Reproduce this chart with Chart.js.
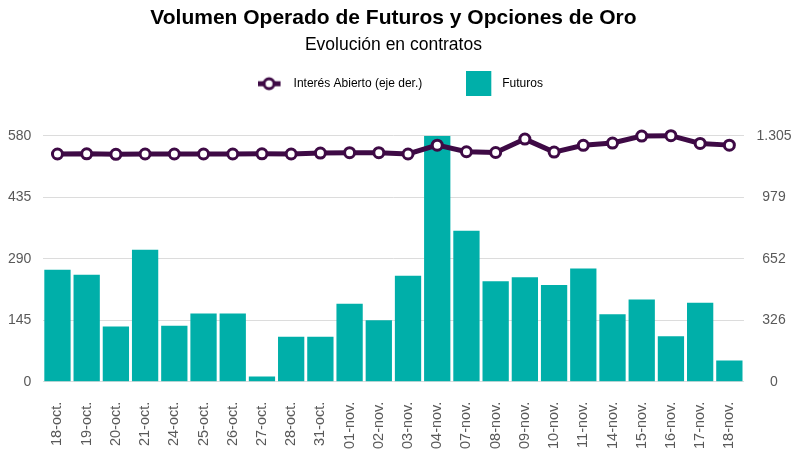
<!DOCTYPE html>
<html>
<head>
<meta charset="utf-8">
<script src="https://cdn.jsdelivr.net/npm/chart.js@4.4.1/dist/chart.umd.min.js"></script>
<style>
  html, body { margin: 0; padding: 0; background: #fff; }
  #wrap { width: 800px; height: 457px; }
</style>
</head>
<body>
<div id="wrap"><canvas id="chart" width="800" height="457"></canvas></div>
<script>
// datos
const fechas = ['18-oct.', '19-oct.', '20-oct.', '21-oct.', '24-oct.', '25-oct.', '26-oct.', '27-oct.',
  '28-oct.', '31-oct.', '01-nov.', '02-nov.', '03-nov.', '04-nov.', '07-nov.', '08-nov.', '09-nov.',
  '10-nov.', '11-nov.', '14-nov.', '15-nov.', '16-nov.', '17-nov.', '18-nov.'];
const futuros = [264, 252, 130, 311, 132, 161, 161, 12, 106, 106, 184, 145, 250, 580,
  356, 237, 246, 228, 267, 159, 194, 107, 186, 50];
const interesAbierto = [1208, 1209, 1206, 1208, 1208, 1208, 1208, 1209, 1208, 1213, 1215, 1215,
  1208, 1255, 1220, 1216, 1287, 1218, 1254, 1266, 1303, 1305, 1264, 1255];
const ticksIzq = [0, 145, 290, 435, 580];
const ticksDer = [0, 326, 652, 979, 1305];

const colorLinea = '#3e0a45';
const colorBarra = '#00afa9';
const gris = '#595959';
const fuente = 'Liberation Sans';

// iconos de la leyenda
function iconoLinea() {
  const c = document.createElement('canvas');
  c.width = 30; c.height = 16;
  const x = c.getContext('2d');
  x.strokeStyle = colorLinea;
  x.lineWidth = 5;
  x.beginPath(); x.moveTo(0, 8); x.lineTo(23, 8); x.stroke();
  x.beginPath(); x.arc(11.5, 8, 5, 0, Math.PI * 2);
  x.fillStyle = '#fff'; x.fill();
  x.lineWidth = 3; x.stroke();
  return c;
}
function iconoBarra() {
  const c = document.createElement('canvas');
  c.width = 30; c.height = 25;
  const x = c.getContext('2d');
  x.fillStyle = colorBarra;
  x.fillRect(0, 0, 25, 25);
  return c;
}
const iconos = [iconoLinea(), iconoBarra()];

// espacio extra debajo de la leyenda + titulos centrados sobre el area del grafico
const ajustes = {
  id: 'ajustes',
  beforeInit(chart) {
    const fitOriginal = chart.legend.fit;
    chart.legend.fit = function () {
      fitOriginal.bind(chart.legend)();
      this.height += 36;
    };
  },
  afterLayout(chart) {
    const area = chart.chartArea;
    chart.boxes.forEach(b => {
      if (b !== chart.legend && b.options && typeof b.options.text === 'string') {
        b.left = area.left;
        b.right = area.right;
      }
    });
  }
};

const ctx = document.getElementById('chart').getContext('2d');
new Chart(ctx, {
  data: {
    labels: fechas,
    datasets: [
      {
        type: 'line',
        label: 'Interés Abierto (eje der.)',
        data: interesAbierto,
        yAxisID: 'yDer',
        borderColor: colorLinea,
        borderWidth: 5,
        pointRadius: 5,
        pointBorderWidth: 3,
        pointBackgroundColor: '#fff',
        pointBorderColor: colorLinea,
        tension: 0,
        clip: false,
        order: 0
      },
      {
        type: 'bar',
        label: 'Futuros',
        data: futuros,
        yAxisID: 'yIzq',
        backgroundColor: colorBarra,
        categoryPercentage: 1,
        barPercentage: 0.9,
        order: 1
      }
    ]
  },
  options: {
    responsive: false,
    animation: false,
    layout: { padding: { left: -3.5, right: -4, top: 0, bottom: 0 } },
    plugins: {
      title: {
        display: true,
        text: 'Volumen Operado de Futuros y Opciones de Oro',
        color: '#000',
        font: { family: fuente, size: 21, weight: 'bold' },
        padding: { top: 6, bottom: 0 }
      },
      subtitle: {
        display: true,
        text: 'Evolución en contratos',
        color: '#000',
        font: { family: fuente, size: 17.5 },
        padding: { top: 3, bottom: -21.5 }
      },
      legend: {
        position: 'top',
        labels: {
          usePointStyle: true,
          pointStyleWidth: 30,
          padding: 44,
          color: '#000',
          font: { family: fuente, size: 12 },
          generateLabels: function (chart) {
            return chart.data.datasets.map((ds, i) => ({
              text: ds.label,
              pointStyle: iconos[i],
              fillStyle: 'transparent',
              strokeStyle: 'transparent',
              lineWidth: 0,
              fontColor: '#000',
              datasetIndex: i,
              hidden: false
            }));
          }
        }
      },
      tooltip: { enabled: false }
    },
    scales: {
      x: {
        offset: true,
        grid: { display: false, drawTicks: false },
        border: { display: false },
        afterFit: s => { s.height -= 12; },
        ticks: {
          color: gris,
          font: { family: fuente, size: 14.5 },
          minRotation: 90,
          maxRotation: 90,
          autoSkip: false,
          padding: 20
        }
      },
      yIzq: {
        position: 'left',
        min: 0,
        max: 580,
        afterBuildTicks: axis => { axis.ticks = ticksIzq.map(v => ({ value: v })); },
        grid: { color: '#dcdcdc', lineWidth: 1, drawTicks: false },
        border: { display: false },
        ticks: {
          color: gris,
          font: { family: fuente, size: 14 },
          padding: 11.5
        }
      },
      yDer: {
        position: 'right',
        min: 0,
        max: 1305,
        afterBuildTicks: axis => { axis.ticks = ticksDer.map(v => ({ value: v })); },
        grid: { display: false, drawTicks: false },
        border: { display: false },
        ticks: {
          color: gris,
          font: { family: fuente, size: 14 },
          padding: 12.5,
          crossAlign: 'center',
          callback: v => v.toLocaleString('de-DE')
        }
      }
    }
  },
  plugins: [ajustes]
});
</script>
</body>
</html>
